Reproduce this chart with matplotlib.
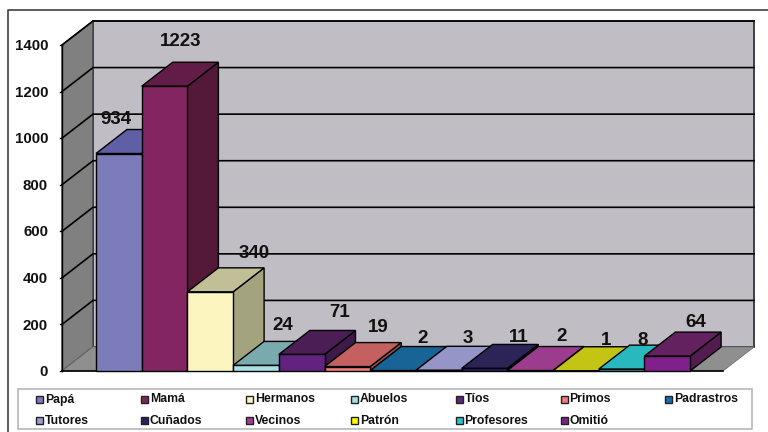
import matplotlib
matplotlib.use('Agg')
import matplotlib.pyplot as plt
from matplotlib.patches import Polygon, Rectangle

categories = ['Papá', 'Mamá', 'Hermanos', 'Abuelos', 'Tíos', 'Primos', 'Padrastros',
              'Tutores', 'Cuñados', 'Vecinos', 'Patrón', 'Profesores', 'Omitió']
values = [934, 1223, 340, 24, 71, 19, 2, 3, 11, 2, 1, 8, 64]
y_ticks = [0, 200, 400, 600, 800, 1000, 1200, 1400]

front_colors = ['#7C7CBA', '#822560', '#FCF5C0', '#A5E0E4', '#622280', '#F47C7C', '#1B6BA5',
                '#9C9CD0', '#24245F', '#A03C96', '#FFFF00', '#2AC5CC', '#80208A']
top_colors = ['#5F5FA6', '#621C48', '#C0BF96', '#79ABAE', '#4B1E56', '#C46060', '#186496',
              '#9595C8', '#2C2456', '#9B3C8C', '#C4C414', '#28B8BE', '#63225F']
side_colors = ['#4E4E8C', '#541839', '#A3A37F', '#5F8F92', '#3E1A48', '#A04C4C', '#124C74',
               '#7070A0', '#1A1A44', '#702C68', '#99990F', '#1E9098', '#521C50']

# label shift from the bar top centre, in pixels
label_shift = [(-3, 34), (16, 45), (44, 38), (27, 40), (38, 42), (31, 39), (30, 32),
               (29, 32), (34, 31), (31, 34), (30, 30), (21, 29), (29, 34)]

W, H = 768, 432
X0, BAR_W = 96, 45.7     # pixel of first bar, pixels per bar
Y0, PX_PER = 371, 326 / 1400
DEPTH_X = 31 / BAR_W
DEPTH_Y = 24 / PX_PER
LEFT = -34 / BAR_W
RIGHT = 627 / BAR_W
TOP = 1400

plt.rcParams['font.family'] = ['Liberation Sans', 'DejaVu Sans']
plt.rcParams['font.weight'] = 'bold'

fig = plt.figure(figsize=(W / 100, H / 100), dpi=100, facecolor='white')
ax = fig.add_axes([0, 0, 1, 1])
ax.set_xlim(-X0 / BAR_W, (W - X0) / BAR_W)
ax.set_ylim((Y0 - H) / PX_PER, Y0 / PX_PER)
ax.axis('off')


def poly(points, color, edge='black', lw=1.0, z=2):
    ax.add_patch(Polygon(points, closed=True, facecolor=color, edgecolor=edge, lw=lw, zorder=z))


def fig_px(x, y):
    return x / W, 1 - y / H


# outer frame
fig.add_artist(plt.Line2D([8 / W, 8 / W, 1], [0, 1 - 10 / H, 1 - 10 / H], color='#404040', lw=1.2))

# walls and floor
poly([(LEFT + DEPTH_X, DEPTH_Y), (RIGHT + DEPTH_X, DEPTH_Y), (RIGHT + DEPTH_X, TOP + DEPTH_Y),
      (LEFT + DEPTH_X, TOP + DEPTH_Y)], '#C0BEC4', edge='#404040', lw=1.4, z=1)
poly([(LEFT, 0), (LEFT + DEPTH_X, DEPTH_Y), (LEFT + DEPTH_X, TOP + DEPTH_Y), (LEFT, TOP)],
     '#808080', edge='#404040', lw=1.0, z=1)
poly([(LEFT, 0), (RIGHT, 0), (RIGHT + DEPTH_X, DEPTH_Y), (LEFT + DEPTH_X, DEPTH_Y)],
     '#8F8F8F', edge='#707070', lw=0.6, z=1)

# grid and ticks
for t in y_ticks:
    if t > 0:
        ax.plot([LEFT, LEFT + DEPTH_X, RIGHT + DEPTH_X], [t, t + DEPTH_Y, t + DEPTH_Y],
                color='black', lw=1.2, zorder=1.5, solid_joinstyle='miter')
    ax.plot([LEFT - 2 / BAR_W, LEFT], [t, t], color='black', lw=1.0, zorder=1.5)
    ax.annotate(str(t), (LEFT, t), xytext=(-14 * 0.72, -1.2 * 0.72), textcoords='offset points',
                ha='right', va='center', fontsize=10.8, color='#111111')
ax.plot([LEFT, LEFT], [0, TOP], color='black', lw=1.0, zorder=1.5)
ax.plot([LEFT, RIGHT], [0, 0], color='black', lw=1.2, zorder=1.5)

# bars, drawn left to right so the later ones cover the earlier ones
for i, v in enumerate(values):
    z = 2 + i * 0.1
    poly([(i + 1, 0), (i + 1 + DEPTH_X, DEPTH_Y), (i + 1 + DEPTH_X, v + DEPTH_Y), (i + 1, v)],
         side_colors[i], z=z)
    poly([(i, v), (i + 1, v), (i + 1 + DEPTH_X, v + DEPTH_Y), (i + DEPTH_X, v + DEPTH_Y)],
         top_colors[i], z=z)
    poly([(i, 0), (i + 1, 0), (i + 1, v), (i, v)], front_colors[i], z=z)

for i, v in enumerate(values):
    sx, sy = label_shift[i]
    ax.annotate(str(v), (i + 0.5, v), xytext=(sx * 0.72, sy * 0.72), textcoords='offset points',
                ha='center', va='center', fontsize=13.5, color='#111111', zorder=5)

# legend box, two rows of seven columns
fig.add_artist(Rectangle(fig_px(18, 429), 734 / W, 40 / H, transform=fig.transFigure,
                         facecolor='white', edgecolor='#B8B8B8', lw=1.2))
for i, name in enumerate(categories):
    col, row = i % 7, i // 7
    x = 36 + col * 104.9
    y = 399 + row * 21
    fig.add_artist(Rectangle(fig_px(x, y + 3.5), 7 / W, 7 / H, transform=fig.transFigure,
                             facecolor=front_colors[i], edgecolor='#222222', lw=1.0))
    fig.text(*fig_px(x + 9, y + 0.5), name, ha='left', va='center', fontsize=8.8, color='#111111')

fig.savefig('out.png', dpi=100)
